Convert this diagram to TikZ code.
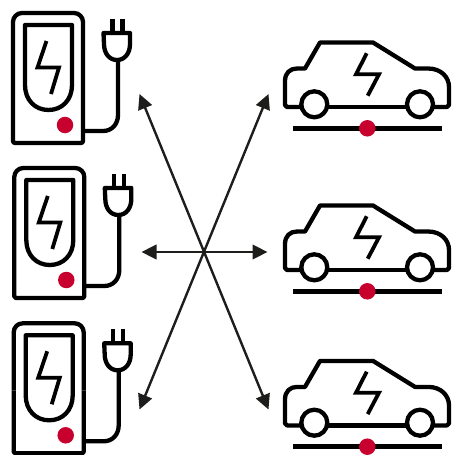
\documentclass[tikz,border=0pt]{standalone}
\usepackage{xcolor}
\usetikzlibrary{arrows.meta}
\definecolor{signalred}{HTML}{C8002D}
\definecolor{arrowblack}{HTML}{1D1D1B}

\begin{document}
\begin{tikzpicture}[
  x=1pt, y=-1pt,
  icon/.style={draw=black, line width=4.3pt, line join=round},
  bolt/.style={draw=black, line width=3.8pt, line join=miter},
  dot/.style={circle, fill=signalred, inner sep=0pt, minimum size=16.5pt},
  arrow/.style={{Triangle[length=15pt, width=14.5pt]}-{Triangle[length=15pt, width=14.5pt]}, draw=arrowblack, fill=arrowblack, line width=2.4pt},
  charger/.pic={
    \draw[icon, rounded corners=9pt] (13,80) -- (13,13) -- (83,13) -- (83,80);
    \draw[icon, rounded corners=1.5pt] (13,80) -- (13,143) -- (83,143) -- (83,80);
    \draw[icon] (25,25) -- (72,25) -- (72,85) .. controls (72,100) and (62,110) .. (48.5,110)
      .. controls (35,110) and (25,100) .. (25,85) -- cycle;
    \draw[bolt] (46.5,41) -- (37.5,67.5) -- (59,67.5) -- (51,94);
    \node[dot] (-led) at (65,125) {};
    % Cable and plug
    \draw[icon] (83,131) -- (103,131) .. controls (112,131) and (118,124) .. (118,115) -- (118,60);
    \draw[icon] (103.5,33) -- (130,33) -- (130,44) .. controls (130,53) and (125,60) .. (117,60)
      .. controls (109,60) and (104,53) .. (104,44) -- cycle;
    \draw[icon] (112.5,19) -- (112.5,33);
    \draw[icon] (122.5,19) -- (122.5,33);
  },
  car/.pic={
    \draw[icon] (300.5,107) -- (287,107) -- (285,105) -- (285,81)
      .. controls (285,73) and (290,68.5) .. (297,68.5) -- (305,68.5) -- (320,42.5) -- (373,42.5)
      -- (415,68.5) -- (428,68.5) .. controls (441,68.5) and (449,77) .. (449,87)
      -- (449,105) -- (447,107) -- (434,107);
    \draw[icon] (328,107) -- (406.5,107);
    \draw[icon] (314.3,104.3) circle (13pt);
    \draw[icon] (420,104.3) circle (13pt);
    \draw[bolt] (366.7,53.3) -- (356,74.3) -- (379,74.3) -- (367.7,95.7);
    \draw[draw=black, line width=5.2pt] (293.3,128.3) -- (441.7,128.3);
    \node[dot] (-led) at (367.3,128.3) {};
  }
]
  \useasboundingbox (0,0) rectangle (451,455);

  % Icons
  \pic (chargerA) at (0,0) {charger};
  \pic (chargerB) at (1.3,155) {charger};
  \pic (chargerC) at (0.7,310.3) {charger};
  \pic (carA) at (0,0) {car};
  \pic (carB) at (0,163) {car};
  \pic (carC) at (0,318.4) {car};

  % Arrow ends
  \coordinate (endA) at (139.5,94);
  \coordinate (endB) at (141.5,252);
  \coordinate (endC) at (139.5,409.5);
  \coordinate (endD) at (268.5,94);
  \coordinate (endE) at (267.5,252);
  \coordinate (endF) at (268.5,409.5);

  % Arrows
  \draw[arrow] (endA) -- (endF);
  \draw[arrow] (endB) -- (endE);
  \draw[arrow] (endC) -- (endD);
\end{tikzpicture}
\end{document}
